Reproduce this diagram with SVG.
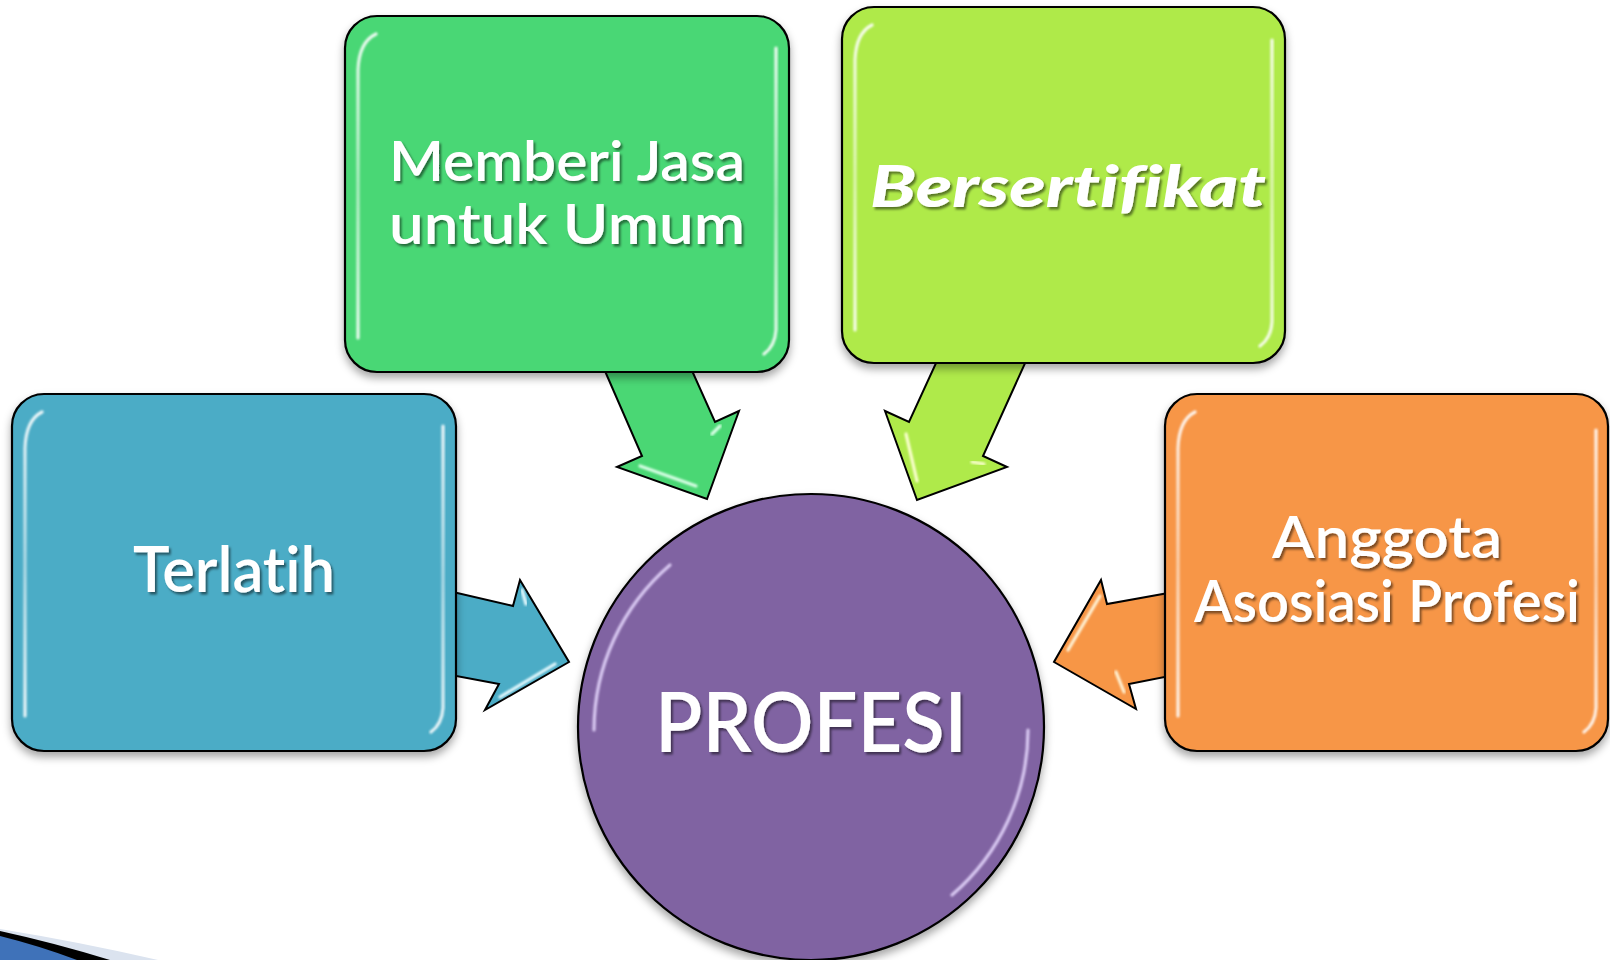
<svg xmlns="http://www.w3.org/2000/svg" width="1610" height="960" viewBox="0 0 1610 960">
  <defs>
    <style>
      .box { stroke: #000; stroke-width: 2.2; filter: url(#boxShadow); }
      .arrow { stroke: #000; stroke-width: 2; stroke-linejoin: miter; }
      .gloss { fill: none; stroke-width: 3.2; stroke-linecap: round; filter: url(#soft); }
      .label { font-family: Lato, "Open Sans", "Liberation Sans", sans-serif; font-weight: 600; fill: #fff; text-anchor: middle; filter: url(#textShadow); font-variant-ligatures: none; font-feature-settings: "liga" 0, "dlig" 0; }
      .bold-label { font-family: Lato, "Liberation Sans", sans-serif; font-weight: 900; font-style: italic; fill: #fff; text-anchor: middle; filter: url(#textShadow); font-variant-ligatures: none; font-feature-settings: "liga" 0, "dlig" 0; }
    </style>
    <filter id="boxShadow" x="-10%" y="-10%" width="120%" height="125%">
      <feDropShadow dx="0" dy="5" stdDeviation="4" flood-color="#000" flood-opacity="0.35"/>
    </filter>
    <filter id="textShadow" x="-10%" y="-20%" width="120%" height="150%">
      <feDropShadow dx="2" dy="2.5" stdDeviation="1.2" flood-color="#000" flood-opacity="0.5"/>
    </filter>
    <filter id="soft" x="-20%" y="-20%" width="140%" height="140%">
      <feGaussianBlur stdDeviation="1"/>
    </filter>
    <linearGradient id="edgeV" x1="0" y1="0" x2="0" y2="1">
      <stop offset="0" stop-color="#fff" stop-opacity="0.9"/>
      <stop offset="0.5" stop-color="#fff" stop-opacity="0.55"/>
      <stop offset="1" stop-color="#fff" stop-opacity="0.9"/>
    </linearGradient>
  </defs>

  <!-- slide corner decoration -->
  <g id="corner">
    <path d="M0,929 Q80,942 158,960 L0,960 Z" fill="#dbe3ef"/>
    <path d="M0,931 Q55,943 110,960 L0,960 Z" fill="#000"/>
    <path d="M0,936 Q40,946 77,960 L0,960 Z" fill="#3f72b9"/>
  </g>

  <!-- connectors: block arrows pointing into the centre circle -->
  <g id="connectors">
    <g id="arrow-terlatih">
      <polygon class="arrow" fill="#4bacc6" points="440,589 513,606 520,580 569,662 485,710 499,684 440,673"/>
      <path class="gloss" stroke="#e8fbff" d="M555,664 L500,697"/>
      <path class="gloss" stroke="#e8fbff" stroke-width="2" d="M522,590 L526,604"/>
    </g>
    <g id="arrow-anggota">
      <polygon class="arrow" fill="#f79646" points="1185,590 1107,604 1101,580 1054,662 1136,709 1129,684 1185,673"/>
      <path class="gloss" stroke="#fff3d6" d="M1100,596 L1068,650"/>
      <path class="gloss" stroke="#fff3d6" stroke-width="2" d="M1116,672 L1124,692"/>
    </g>
    <g id="arrow-memberi">
      <polygon class="arrow" fill="#4ad774" points="598,355 642,456 617,467 707,499 739,411 715,422 685,355"/>
      <path class="gloss" stroke="#d9ffe6" d="M640,466 L696,486"/>
      <path class="gloss" stroke="#d9ffe6" stroke-width="2" d="M712,434 L720,426"/>
    </g>
    <g id="arrow-sertifikat">
      <polygon class="arrow" fill="#afea4a" points="1031,350 983,456 1007,467 917,500 885,411 909,422 942,350"/>
      <path class="gloss" stroke="#fbffd0" d="M906,434 L917,481"/>
      <path class="gloss" stroke="#fbffd0" stroke-width="2" d="M972,462 L984,464"/>
    </g>
  </g>

  <!-- Memberi Jasa untuk Umum -->
  <g id="node-memberi">
    <rect class="box" x="345" y="16" width="444" height="356" rx="32" fill="#4ad774"/>
    <path class="gloss" stroke="url(#edgeV)" d="M376,34 Q359,42 358,70 L358,338"/>
    <path class="gloss" stroke="url(#edgeV)" d="M776,48 L776,330 Q775,346 764,354"/>
    <text class="label" x="567" y="181" font-size="56" textLength="356" lengthAdjust="spacingAndGlyphs">Memberi Jasa</text>
    <text class="label" x="567" y="244" font-size="56" textLength="356" lengthAdjust="spacingAndGlyphs">untuk Umum</text>
  </g>

  <!-- Bersertifikat -->
  <g id="node-sertifikat">
    <rect class="box" x="842" y="7" width="443" height="356" rx="32" fill="#afea4a"/>
    <path class="gloss" stroke="url(#edgeV)" d="M872,25 Q856,33 855,60 L855,330"/>
    <path class="gloss" stroke="url(#edgeV)" d="M1272,40 L1272,322 Q1271,338 1260,346"/>
    <text class="bold-label" x="1068" y="207" font-size="58" textLength="396" lengthAdjust="spacingAndGlyphs">Bersertifikat</text>
  </g>

  <!-- Terlatih -->
  <g id="node-terlatih">
    <rect class="box" x="12" y="394" width="444" height="357" rx="32" fill="#4bacc6"/>
    <path class="gloss" stroke="url(#edgeV)" d="M42,412 Q26,420 25,448 L25,716"/>
    <path class="gloss" stroke="url(#edgeV)" d="M443,426 L443,708 Q442,724 431,732"/>
    <text class="label" x="234" y="592" font-size="63" textLength="202" lengthAdjust="spacingAndGlyphs">Terlatih</text>
  </g>

  <!-- Anggota Asosiasi Profesi -->
  <g id="node-anggota">
    <rect class="box" x="1165" y="394" width="443" height="357" rx="32" fill="#f79646"/>
    <path class="gloss" stroke="url(#edgeV)" d="M1195,412 Q1179,420 1178,448 L1178,716"/>
    <path class="gloss" stroke="url(#edgeV)" d="M1596,430 L1596,708 Q1595,724 1584,732"/>
    <text class="label" x="1387" y="558" font-size="57" textLength="230" lengthAdjust="spacingAndGlyphs">Anggota</text>
    <text class="label" x="1387" y="622" font-size="57" textLength="386" lengthAdjust="spacingAndGlyphs">Asosiasi Profesi</text>
  </g>

  <!-- PROFESI -->
  <g id="node-profesi">
    <circle class="box" cx="811" cy="727" r="233" fill="#8064a2"/>
    <path class="gloss" stroke="#d9c9f2" stroke-width="4" d="M670,565 A218,218 0 0 0 594,730"/>
    <path class="gloss" stroke="#d9c9f2" stroke-width="4" d="M1028,730 A218,218 0 0 1 952,895"/>
    <text class="label" x="811" y="752" font-size="82" textLength="312" lengthAdjust="spacingAndGlyphs">PROFESI</text>
  </g>
</svg>
